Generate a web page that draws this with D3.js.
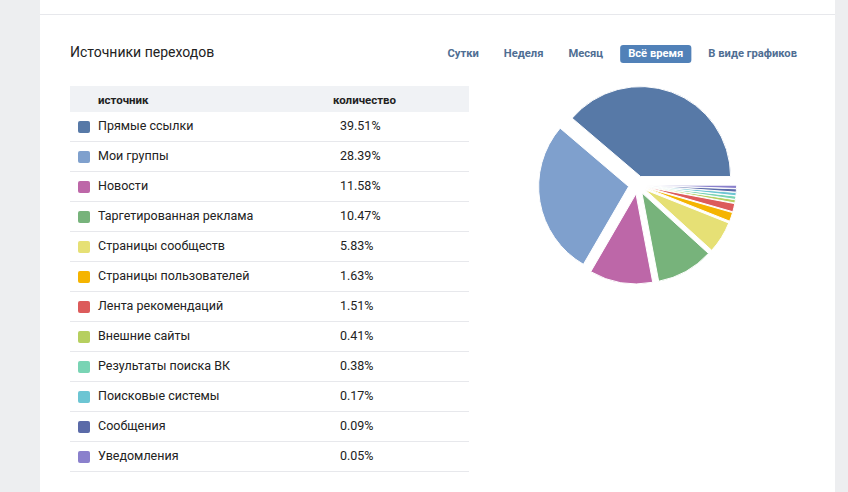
<!DOCTYPE html>
<html>
<head>
<meta charset="utf-8">
<script src="https://cdn.jsdelivr.net/npm/d3@7"></script>
<style>
  html, body { margin: 0; padding: 0; background: #edeef0; }
  svg { display: block; font-family: Roboto, "Open Sans", sans-serif; }
</style>
</head>
<body>
<svg id="chart" width="848" height="492"></svg>
<script>
// данные
const sources = [
  "Прямые ссылки", "Мои группы", "Новости", "Таргетированная реклама",
  "Страницы сообществ", "Страницы пользователей", "Лента рекомендаций",
  "Внешние сайты", "Результаты поиска ВК", "Поисковые системы",
  "Сообщения", "Уведомления"
];
const shares = [39.51, 28.39, 11.58, 10.47, 5.83, 1.63, 1.51, 0.41, 0.38, 0.17, 0.09, 0.05];
const colors = [
  "#5779a7", "#7fa0cd", "#bd67a8", "#77b37b", "#e6e075", "#f5b400",
  "#dc5b5b", "#b6cf5f", "#79d4b4", "#6cc5d3", "#5a6aa8", "#8a80cc"
];
const tabs = ["Сутки", "Неделя", "Месяц", "Всё время", "В виде графиков"];
const activeTab = "Всё время";
const columns = ["источник", "количество"];
const title = "Источники переходов";

const svg = d3.select("#chart");

// карточка
svg.append("rect").attr("x", 40).attr("y", 0).attr("width", 795).attr("height", 492).attr("fill", "#fff");
svg.append("line").attr("x1", 40).attr("x2", 835).attr("y1", 14.5).attr("y2", 14.5)
  .attr("stroke", "#e7e8ec");

svg.append("text").attr("x", 70).attr("y", 57)
  .attr("font-size", 14).attr("fill", "#222").text(title);

// вкладки справа налево
const tabG = svg.append("g");
let right = 797;
tabs.slice().reverse().forEach(t => {
  const active = t === activeTab;
  const txt = tabG.append("text")
    .attr("x", right).attr("y", 57)
    .attr("text-anchor", "end")
    .attr("font-size", 11.2).attr("font-weight", "bold")
    .attr("fill", active ? "#fff" : "#4f6e93")
    .text(t);
  const w = txt.node().getComputedTextLength();
  if (active) {
    tabG.insert("rect", "text")
      .attr("x", right - w - 8).attr("y", 45)
      .attr("width", w + 16).attr("height", 18)
      .attr("rx", 3).attr("fill", "#5181b8");
  }
  right -= w + 25;
});

// таблица
const x = d3.scaleOrdinal().domain(columns).range([98, 333]);
const y = d3.scaleBand().domain(sources).range([112, 472]);

svg.append("rect").attr("x", 70).attr("y", 86).attr("width", 399).attr("height", 26)
  .attr("fill", "#f0f2f5");
svg.append("g").selectAll("text").data(columns).join("text")
  .attr("x", d => x(d)).attr("y", 103.5)
  .attr("font-size", 11.5).attr("font-weight", "bold").attr("fill", "#222")
  .text(d => d);

const rows = svg.append("g").selectAll("g").data(sources).join("g")
  .attr("transform", d => `translate(0,${y(d)})`);

rows.append("line")
  .attr("x1", 70).attr("x2", 469)
  .attr("y1", y.bandwidth() - 0.5).attr("y2", y.bandwidth() - 0.5)
  .attr("stroke", "#e7e8ec");
rows.append("rect")
  .attr("x", 78).attr("y", 9).attr("width", 12).attr("height", 12).attr("rx", 2)
  .attr("fill", (d, i) => colors[i]);
rows.append("text")
  .attr("x", x(columns[0])).attr("y", 18)
  .attr("font-size", 12.5).attr("fill", "#222")
  .text(d => d);
rows.append("text")
  .attr("x", 340).attr("y", 18)
  .attr("font-size", 12.5).attr("fill", "#222")
  .text((d, i) => shares[i].toFixed(2) + "%");

// круговая диаграмма: от востока против часовой стрелки, все сектора выдвинуты
// маленьким секторам даём минимальный размер, иначе их не видно
const radius = 90, offset = 9, minShare = 0.6;
const pie = d3.pie().sort(null)
  .startAngle(Math.PI / 2).endAngle(Math.PI / 2 - 2 * Math.PI)
  .value(d => Math.max(d, minShare));
const arc = d3.arc().innerRadius(0).outerRadius(radius);

const pg = svg.append("g").attr("transform", "translate(637.5,185)");
pg.selectAll("path").data(pie(shares)).join("path")
  .attr("transform", d => {
    const m = (d.startAngle + d.endAngle) / 2;
    return `translate(${offset * Math.sin(m)},${-offset * Math.cos(m)})`;
  })
  .attr("d", arc)
  .attr("fill", (d, i) => colors[i])
  .attr("stroke", "#fff").attr("stroke-width", 1).attr("stroke-linejoin", "round");
</script>
</body>
</html>
